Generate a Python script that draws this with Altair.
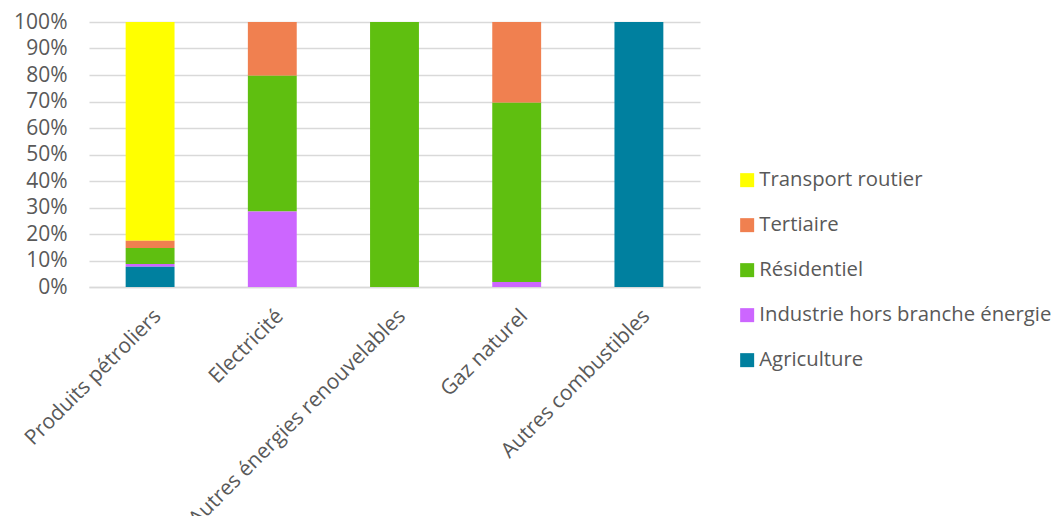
import altair as alt
import pandas as pd

categories = ["Produits pétroliers", "Electricité", "Autres énergies renouvelables", "Gaz naturel", "Autres combustibles"]
sectors = ["Transport routier", "Tertiaire", "Résidentiel", "Industrie hors branche énergie", "Agriculture"]
colors = ["#FFFF00", "#F08050", "#5FBF10", "#CC66FF", "#00809F"]

transport = [82.5, 0.0, 0.0, 0.0, 0.0]
tertiaire = [2.8, 20.3, 0.0, 30.5, 0.0]
residentiel = [6.0, 51.2, 100.0, 67.6, 0.0]
industrie = [1.1, 28.5, 0.0, 1.9, 0.0]
agriculture = [7.6, 0.0, 0.0, 0.0, 100.0]

series = [transport, tertiaire, residentiel, industrie, agriculture]
rows = []
for s, vals in zip(sectors, series):
    for c, v in zip(categories, vals):
        rows.append({"cat": c, "sector": s, "value": v / 100.0,
                     "rank": len(sectors) - 1 - sectors.index(s)})
df = pd.DataFrame(rows)

FONT = "Open Sans"
GREY = "#595959"
FS = 21

chart = alt.Chart(df).mark_bar().encode(
    x=alt.X("cat:N", sort=categories, title=None,
            scale=alt.Scale(paddingInner=0.6, paddingOuter=0.3),
            axis=alt.Axis(labelAngle=-45, labelAlign="right", labelBaseline="top",
                          labelFontSize=FS, labelFont=FONT, labelColor=GREY,
                          ticks=False, domainColor="#d9d9d9", domainWidth=1.5,
                          labelPadding=18, labelLimit=400)),
    y=alt.Y("value:Q", stack="zero", title=None,
            scale=alt.Scale(domain=[0, 1]),
            axis=alt.Axis(format=".0%", values=[i / 10 for i in range(11)],
                          labelFontSize=FS, labelFont=FONT, labelColor=GREY,
                          ticks=False, domain=False, gridColor="#d9d9d9", gridWidth=1.5,
                          labelPadding=22)),
    color=alt.Color("sector:N", title=None,
                    scale=alt.Scale(domain=sectors, range=colors),
                    legend=alt.Legend(orient="none", legendX=648, legendY=148,
                                      symbolType="square", symbolSize=196,
                                      symbolStrokeWidth=0,
                                      labelFontSize=20.3, labelFont=FONT, labelColor=GREY,
                                      rowPadding=24, labelOffset=2, labelLimit=400,
                                      padding=0)),
    order=alt.Order("rank:Q", sort="ascending"),
).properties(
    width=611, height=265,
    autosize=alt.AutoSizeParams(type="none"),
    padding={"left": 81, "top": 14, "right": 355, "bottom": 229},
).configure_view(stroke=None)

chart.save("out.html", embed_options={"renderer": "svg", "actions": False})
